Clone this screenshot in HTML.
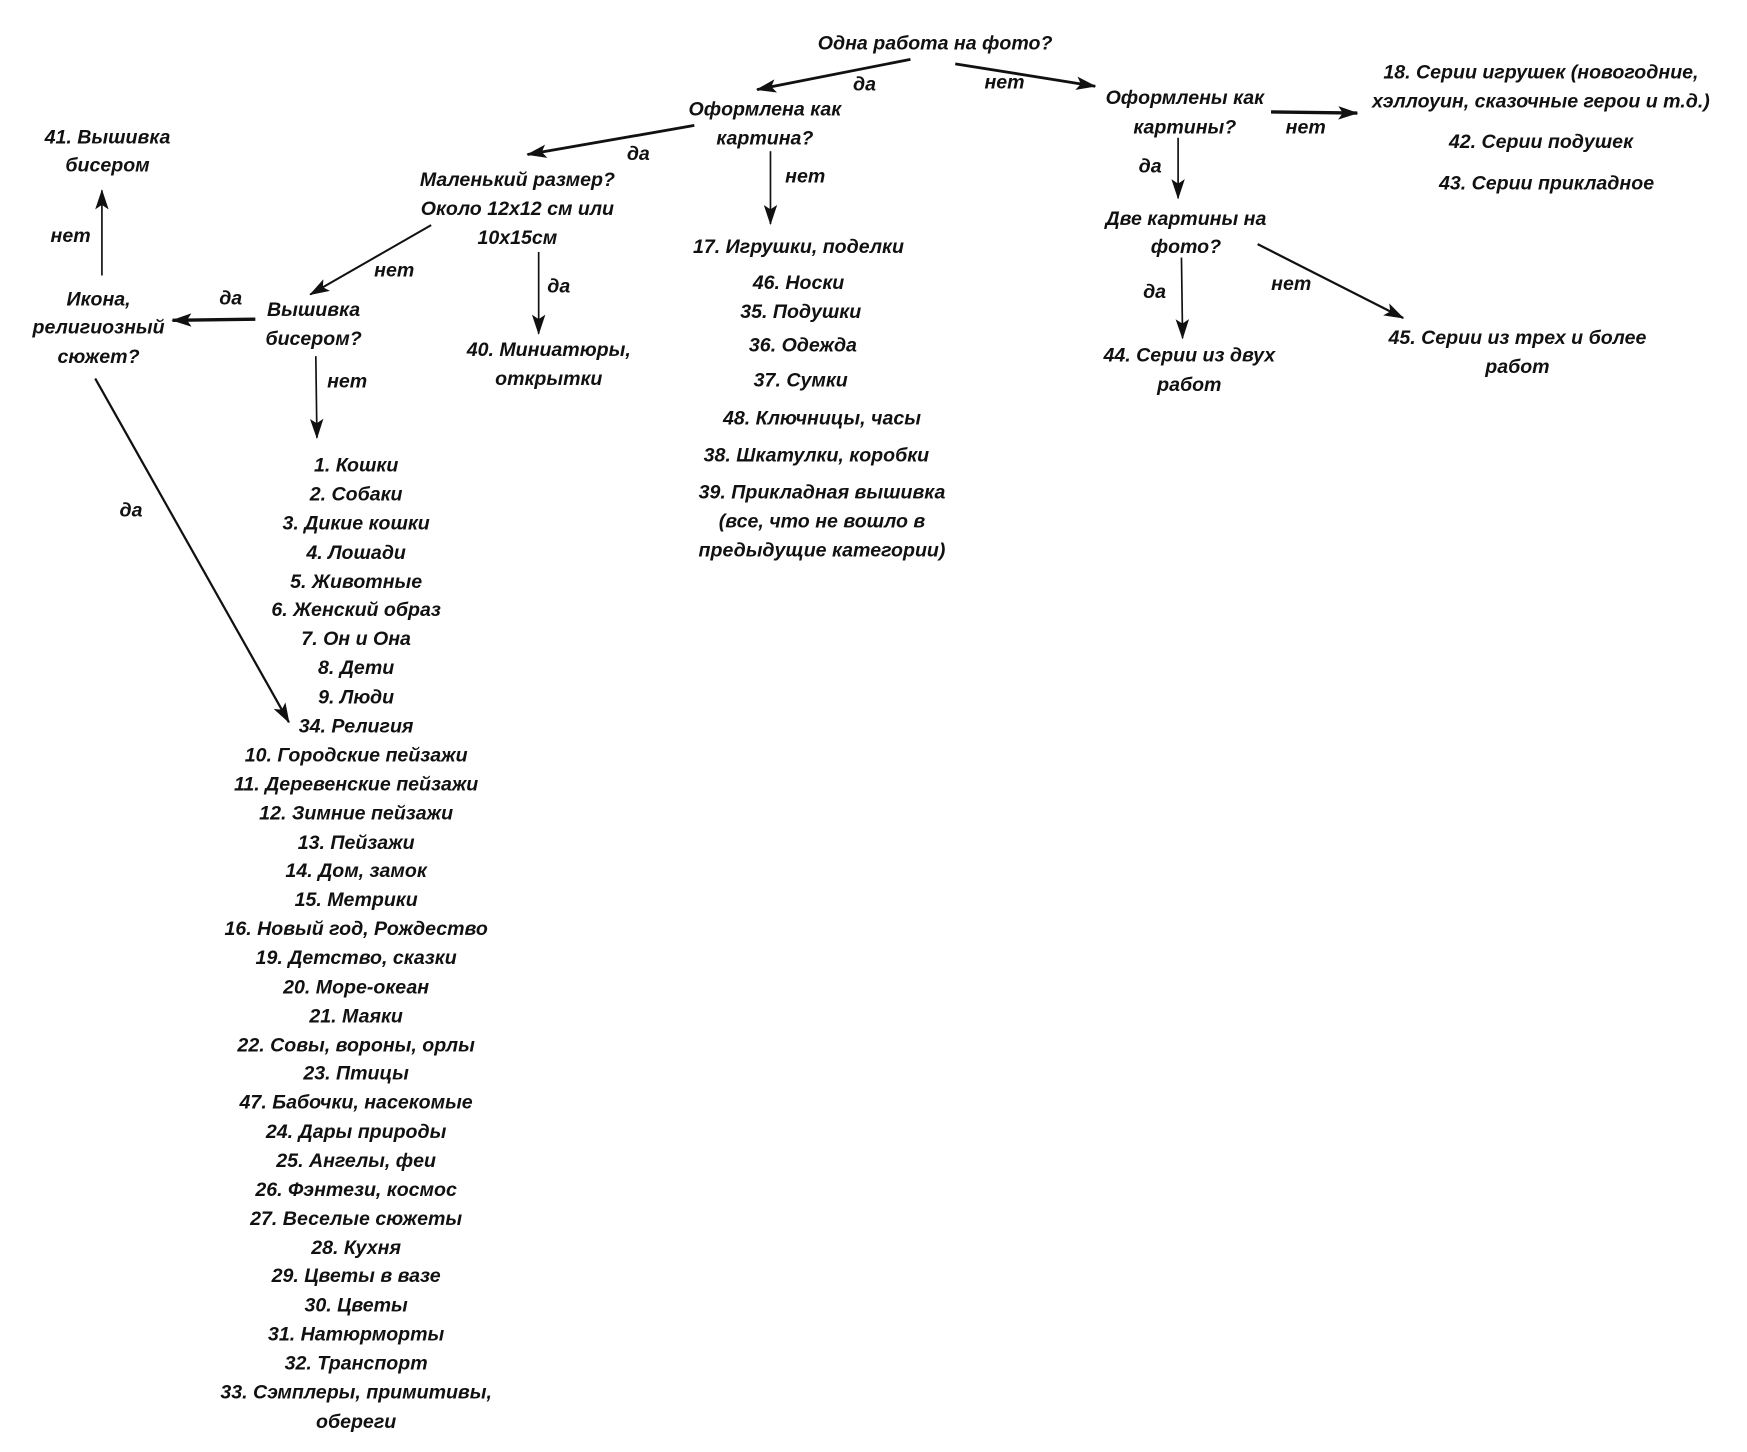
<!DOCTYPE html>
<html><head><meta charset="utf-8"><style>
html,body{margin:0;padding:0;background:#fff;}
svg{display:block}
text{font-family:"Liberation Sans",sans-serif;font-style:italic;font-weight:bold;font-size:17.5px;fill:#111;text-anchor:middle}
</style></head><body>
<svg width="1747" height="1452" viewBox="0 0 1560 1296.6" xmlns="http://www.w3.org/2000/svg">
<defs>
<marker id="a" viewBox="0 0 18 12" refX="17" refY="6" markerWidth="18" markerHeight="12" markerUnits="userSpaceOnUse" orient="auto">
<path d="M0,0 L18,6 L0,12 L4,6 Z" fill="#111"/>
</marker>
</defs>
<g stroke="#111" fill="none" marker-end="url(#a)">
<line x1="813" y1="53" x2="676" y2="80" stroke-width="2.5"/>
<line x1="853" y1="57" x2="978" y2="77" stroke-width="2.5"/>
<line x1="620" y1="112" x2="471" y2="138" stroke-width="2.5"/>
<line x1="688" y1="135" x2="688" y2="200" stroke-width="1.5"/>
<line x1="1135" y1="100" x2="1212" y2="101" stroke-width="3"/>
<line x1="1052" y1="123" x2="1052" y2="177" stroke-width="1.5"/>
<line x1="385" y1="201" x2="277" y2="263" stroke-width="1.8"/>
<line x1="481" y1="225" x2="481" y2="298" stroke-width="1.5"/>
<line x1="1055" y1="230" x2="1056" y2="302" stroke-width="1.5"/>
<line x1="1123" y1="218" x2="1253" y2="284" stroke-width="2"/>
<line x1="228" y1="285" x2="154" y2="286" stroke-width="3"/>
<line x1="91" y1="246" x2="91" y2="170" stroke-width="1.5"/>
<line x1="282" y1="318" x2="283" y2="391" stroke-width="1.5"/>
<line x1="85" y1="338" x2="258" y2="645" stroke-width="2"/>
</g>
<g>
<text x="835" y="44">Одна работа на фото?</text>
<text x="772" y="81">да</text>
<text x="897" y="79">нет</text>
<text x="683" y="103">Оформлена как</text>
<text x="683" y="129">картина?</text>
<text x="1058" y="93">Оформлены как</text>
<text x="1058" y="119">картины?</text>
<text x="1376" y="70">18. Серии игрушек (новогодние,</text>
<text x="1376" y="96">хэллоуин, сказочные герои и т.д.)</text>
<text x="1166" y="119">нет</text>
<text x="1376" y="132">42. Серии подушек</text>
<text x="1381" y="169">43. Серии прикладное</text>
<text x="96" y="128">41. Вышивка</text>
<text x="96" y="153">бисером</text>
<text x="570" y="143">да</text>
<text x="462" y="166">Маленький размер?</text>
<text x="462" y="192">Около 12x12 см или</text>
<text x="462" y="218">10x15см</text>
<text x="719" y="163">нет</text>
<text x="1027" y="154">да</text>
<text x="1059" y="201">Две картины на</text>
<text x="1059" y="226">фото?</text>
<text x="63" y="216">нет</text>
<text x="713" y="226">17. Игрушки, поделки</text>
<text x="713" y="258">46. Носки</text>
<text x="715" y="284">35. Подушки</text>
<text x="717" y="314">36. Одежда</text>
<text x="715" y="345">37. Сумки</text>
<text x="734" y="379">48. Ключницы, часы</text>
<text x="729" y="412">38. Шкатулки, коробки</text>
<text x="734" y="445">39. Прикладная вышивка</text>
<text x="734" y="471">(все, что не вошло в</text>
<text x="734" y="497">предыдущие категории)</text>
<text x="352" y="247">нет</text>
<text x="499" y="261">да</text>
<text x="1153" y="259">нет</text>
<text x="1031" y="266">да</text>
<text x="88" y="273">Икона,</text>
<text x="88" y="298">религиозный</text>
<text x="88" y="324">сюжет?</text>
<text x="206" y="272">да</text>
<text x="280" y="282">Вышивка</text>
<text x="280" y="308">бисером?</text>
<text x="1355" y="307">45. Серии из трех и более</text>
<text x="1355" y="333">работ</text>
<text x="1062" y="323">44. Серии из двух</text>
<text x="1062" y="349">работ</text>
<text x="490" y="318">40. Миниатюры,</text>
<text x="490" y="344">открытки</text>
<text x="310" y="346">нет</text>
<text x="117" y="461">да</text>
</g>
<g>
<text x="318" y="421">1. Кошки</text>
<text x="318" y="447">2. Собаки</text>
<text x="318" y="473">3. Дикие кошки</text>
<text x="318" y="499">4. Лошади</text>
<text x="318" y="525">5. Животные</text>
<text x="318" y="550">6. Женский образ</text>
<text x="318" y="576">7. Он и Она</text>
<text x="318" y="602">8. Дети</text>
<text x="318" y="628">9. Люди</text>
<text x="318" y="654">34. Религия</text>
<text x="318" y="680">10. Городские пейзажи</text>
<text x="318" y="706">11. Деревенские пейзажи</text>
<text x="318" y="732">12. Зимние пейзажи</text>
<text x="318" y="758">13. Пейзажи</text>
<text x="318" y="783">14. Дом, замок</text>
<text x="318" y="809">15. Метрики</text>
<text x="318" y="835">16. Новый год, Рождество</text>
<text x="318" y="861">19. Детство, сказки</text>
<text x="318" y="887">20. Море-океан</text>
<text x="318" y="913">21. Маяки</text>
<text x="318" y="939">22. Совы, вороны, орлы</text>
<text x="318" y="964">23. Птицы</text>
<text x="318" y="990">47. Бабочки, насекомые</text>
<text x="318" y="1016">24. Дары природы</text>
<text x="318" y="1042">25. Ангелы, феи</text>
<text x="318" y="1068">26. Фэнтези, космос</text>
<text x="318" y="1094">27. Веселые сюжеты</text>
<text x="318" y="1120">28. Кухня</text>
<text x="318" y="1145">29. Цветы в вазе</text>
<text x="318" y="1171">30. Цветы</text>
<text x="318" y="1197">31. Натюрморты</text>
<text x="318" y="1223">32. Транспорт</text>
<text x="318" y="1249">33. Сэмплеры, примитивы,</text>
<text x="318" y="1275">обереги</text>
</g>
</svg>
</body></html>
